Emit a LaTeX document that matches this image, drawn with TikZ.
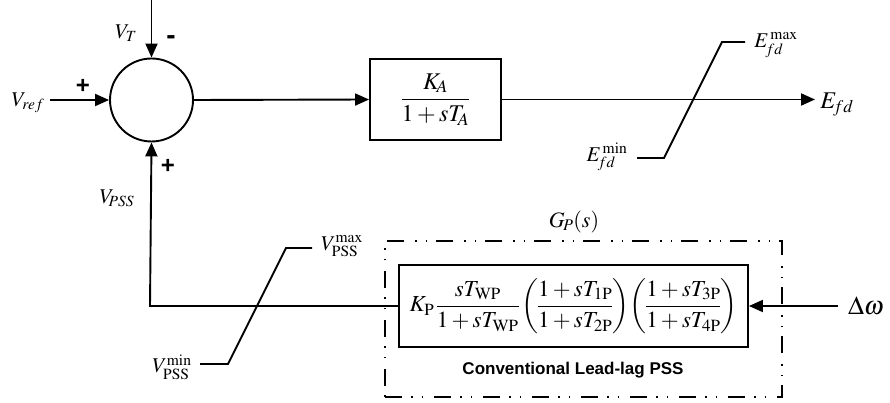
\documentclass[tikz,border=0pt]{standalone}
\usepackage{amsmath}
\usepackage{mathptmx}
\usepackage[no-math]{fontspec}
\setmainfont{Liberation Serif}
\setsansfont{Liberation Sans}
\usetikzlibrary{arrows.meta}
\tikzset{
  ln/.style={line width=1.9pt},
  arr/.style={ln,-{Triangle[length=14pt,width=12pt]}},
  blockbox/.style={draw,line width=1.9pt,inner sep=0pt},
  lbl/.style={inner sep=0pt,font=\fontsize{21}{24}\selectfont},
  sgn/.style={inner sep=0pt,font=\fontsize{24}{26}\selectfont\sffamily\bfseries},
  dashbox/.style={draw,line width=1.5pt,dash pattern=on 17pt off 9pt on 1.5pt off 9pt on 1.5pt off 11pt}
}
\begin{document}
\begin{tikzpicture}[x=1pt,y=-1pt]
\useasboundingbox (0,0) rectangle (890,403);
% summing junction
\node[draw,circle,line width=1.9pt,minimum size=83pt,inner sep=0pt] (sum) at (151.5,100) {};
\coordinate (vtin) at (151.5,0);
\coordinate (vrefin) at (50,100);
\draw[arr] (vtin) -- (sum.north);
\draw[arr] (vrefin) -- (sum.west);
\node[lbl] (vt) at (126,33) {$V_T$};
\node[lbl] (vref) at (28,103) {$V_{ref}$};
\node[sgn,font=\fontsize{28}{30}\selectfont\sffamily\bfseries] (mns) at (171,40) {-};
\node[sgn] (p1) at (83,86) {+};
\node[sgn] (p2) at (168,166) {+};
\node[lbl] (vpss) at (117,198) {$V_{\!PSS}$};
% exciter block
\node[blockbox,minimum width=131pt,minimum height=81pt] (ka) at (435.5,99.5)
  {\fontsize{24}{28}\selectfont$\dfrac{K_{\!A}}{1+sT_{\!A}}$};
\draw[arr] (sum.east) -- (ka.west);
\coordinate (efdout) at (815,99.5);
\draw[arr] (ka.east) -- (efdout);
\node[lbl,font=\fontsize{24}{26}\selectfont] (efd) at (837,105) {$E_{\!fd}$};
% limiter Efd
\coordinate (em1) at (745,42);
\coordinate (em2) at (722,42);
\coordinate (em3) at (664,158);
\coordinate (em4) at (637,158);
\draw[ln] (em1) -- (em2) -- (em3) -- (em4);
\node[lbl] (efdmax) at (776,45) {$E_{\!fd}^{\,\mathrm{max}}$};
\node[lbl] (efdmin) at (607,157) {$E_{\!fd}^{\,\mathrm{min}}$};
% PSS
\node[dashbox,minimum width=397pt,minimum height=156pt] (gbox) at (583.5,319) {};
\node[blockbox,minimum width=349pt,minimum height=82pt] (pss) at (573.5,306)
  {\fontsize{23}{27}\selectfont\medmuskip=2.5mu\nulldelimiterspace=0pt$K_{\mathrm{P}}\,\dfrac{sT_{\mathrm{WP}}}{1+sT_{\mathrm{WP}}}\left(\dfrac{1+sT_{\mathrm{1P}}}{1+sT_{\mathrm{2P}}}\right)\!\left(\dfrac{1+sT_{\mathrm{3P}}}{1+sT_{\mathrm{4P}}}\right)$};
\node[lbl,font=\fontsize{22}{24}\selectfont] (gp) at (574,222) {$G_{\!P}(s)$};
\node[inner sep=0pt,font=\fontsize{17}{19}\selectfont\sffamily\bfseries] (conv) at (573,370) {Conventional Lead-lag PSS};
\coordinate (dwin) at (838,306);
\draw[arr] (dwin) -- (pss.east);
\node[lbl,font=\fontsize{26}{28}\selectfont] (dw) at (866,306) {$\Delta\omega$};
\coordinate (corner) at (150,306);
\draw[arr] (pss.west) -- (corner) -- (sum.south);
% limiter VPSS
\coordinate (vm1) at (312,248);
\coordinate (vm2) at (286,248);
\coordinate (vm3) at (228,364);
\coordinate (vm4) at (200,364);
\draw[ln] (vm1) -- (vm2) -- (vm3) -- (vm4);
\node[lbl] (vpssmax) at (342,246) {$V_{\mathrm{PSS}}^{\mathrm{max}}$};
\node[lbl] (vpssmin) at (172,367) {$V_{\mathrm{PSS}}^{\mathrm{min}}$};
\end{tikzpicture}
\end{document}
